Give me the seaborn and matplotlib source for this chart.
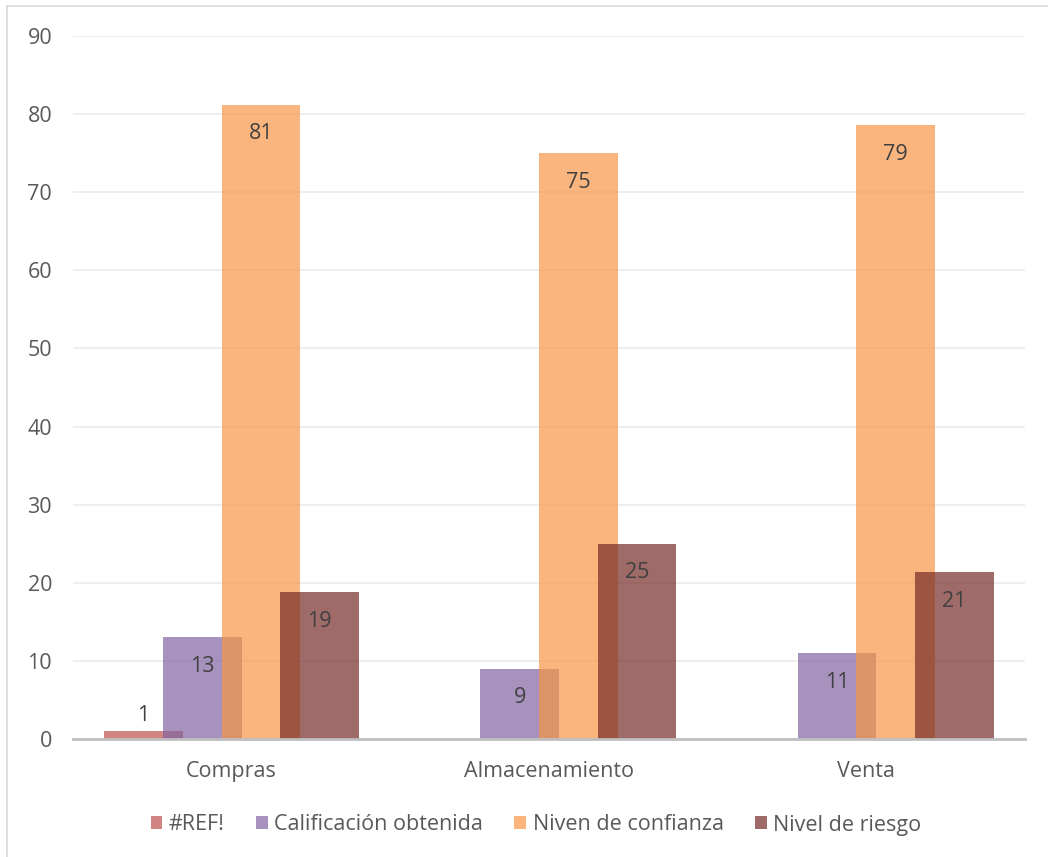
import numpy as np
import pandas as pd
import matplotlib
matplotlib.use("Agg")
import matplotlib.pyplot as plt
import seaborn as sns
from matplotlib.lines import Line2D
from matplotlib.patches import Patch

# ---- data ----
categories = ["Compras", "Almacenamiento", "Venta"]
series_names = ["#REF!", "Calificación obtenida", "Niven de confianza", "Nivel de riesgo"]
ref_vals = [1, 0, 0]
calificacion = [13, 9, 11]
confianza = [81.2, 75.0, 78.6]
riesgo = [18.8, 25.0, 21.4]
yticks = [0, 10, 20, 30, 40, 50, 60, 70, 80, 90]

colors = ["#C0504D", "#8064A2", "#F79646", "#772C2A"]
ALPHA = 0.7

rows = []
for name, vals in zip(series_names, [ref_vals, calificacion, confianza, riesgo]):
    for c, v in zip(categories, vals):
        rows.append({"cat": c, "serie": name, "val": v})
df = pd.DataFrame(rows)

sns.set_theme(style="white")
plt.rcParams["font.family"] = ["Open Sans", "DejaVu Sans"]

fig = plt.figure(figsize=(10.48, 8.57), dpi=100)
ax = fig.add_axes([73 / 1048, 1 - 739 / 857, (1025 - 73) / 1048, (739 - 36) / 857])

sns.barplot(data=df, x="cat", y="val", hue="serie", order=categories,
            hue_order=series_names, palette=colors, alpha=ALPHA, width=0.74,
            linewidth=0, saturation=1, legend=False, ax=ax)

# widen bars (Excel-style overlap) keeping centers
new_w = 0.2476
for cont in ax.containers:
    for p in cont.patches:
        cx = p.get_x() + p.get_width() / 2
        p.set_width(new_w)
        p.set_x(cx - new_w / 2)

# data labels
label_color = "#404040"
FS = 15.5
for cont, vals in zip(ax.containers, [ref_vals, calificacion, confianza, riesgo]):
    for p, v in zip(cont.patches, vals):
        if v == 0:
            continue
        cx = p.get_x() + p.get_width() / 2
        h = p.get_height()
        if v < 5:
            ax.annotate(f"{int(v + 0.5)}", (cx, h), xytext=(0, 3.5), textcoords="offset points",
                        ha="center", va="bottom", fontsize=FS, color=label_color)
        else:
            ax.annotate(f"{int(v + 0.5)}", (cx, h), xytext=(0, -21), textcoords="offset points",
                        ha="center", va="center", fontsize=FS, color=label_color)

ax.set_ylim(0, 90)
ax.set_xlim(-0.5, 2.5)
ax.set_yticks(yticks)
ax.set_yticklabels([str(t) for t in yticks])
ax.yaxis.grid(True, color="#EBEBEB", linewidth=1.2)
ax.set_axisbelow(True)
for s in ["left", "right", "top"]:
    ax.spines[s].set_visible(False)
ax.spines["bottom"].set_color("#BFBFBF")
ax.spines["bottom"].set_linewidth(2)
ax.tick_params(axis="both", length=0, labelsize=FS, colors="#595959")
ax.tick_params(axis="y", pad=15)
ax.tick_params(axis="x", pad=16)
ax.set_xlabel("")
ax.set_ylabel("")

handles = [Patch(facecolor=c, alpha=ALPHA, edgecolor="none") for c in colors]
leg = fig.legend(handles, series_names, loc="center", bbox_to_anchor=(536 / 1048, 1 - 825 / 857),
                 ncol=4, frameon=False, fontsize=FS, handlelength=0.55, handleheight=0.55,
                 handletextpad=0.3, columnspacing=1.45)
for t in leg.get_texts():
    t.set_color("#595959")

# chart border (left and top visible)
fig.add_artist(Line2D([7 / 1048, 7 / 1048], [0, 1 - 6 / 857], transform=fig.transFigure,
                      color="#D9D9D9", linewidth=1.2))
fig.add_artist(Line2D([7 / 1048, 1], [1 - 6 / 857, 1 - 6 / 857], transform=fig.transFigure,
                      color="#D9D9D9", linewidth=1.2))

fig.savefig("out.png", dpi=100)
